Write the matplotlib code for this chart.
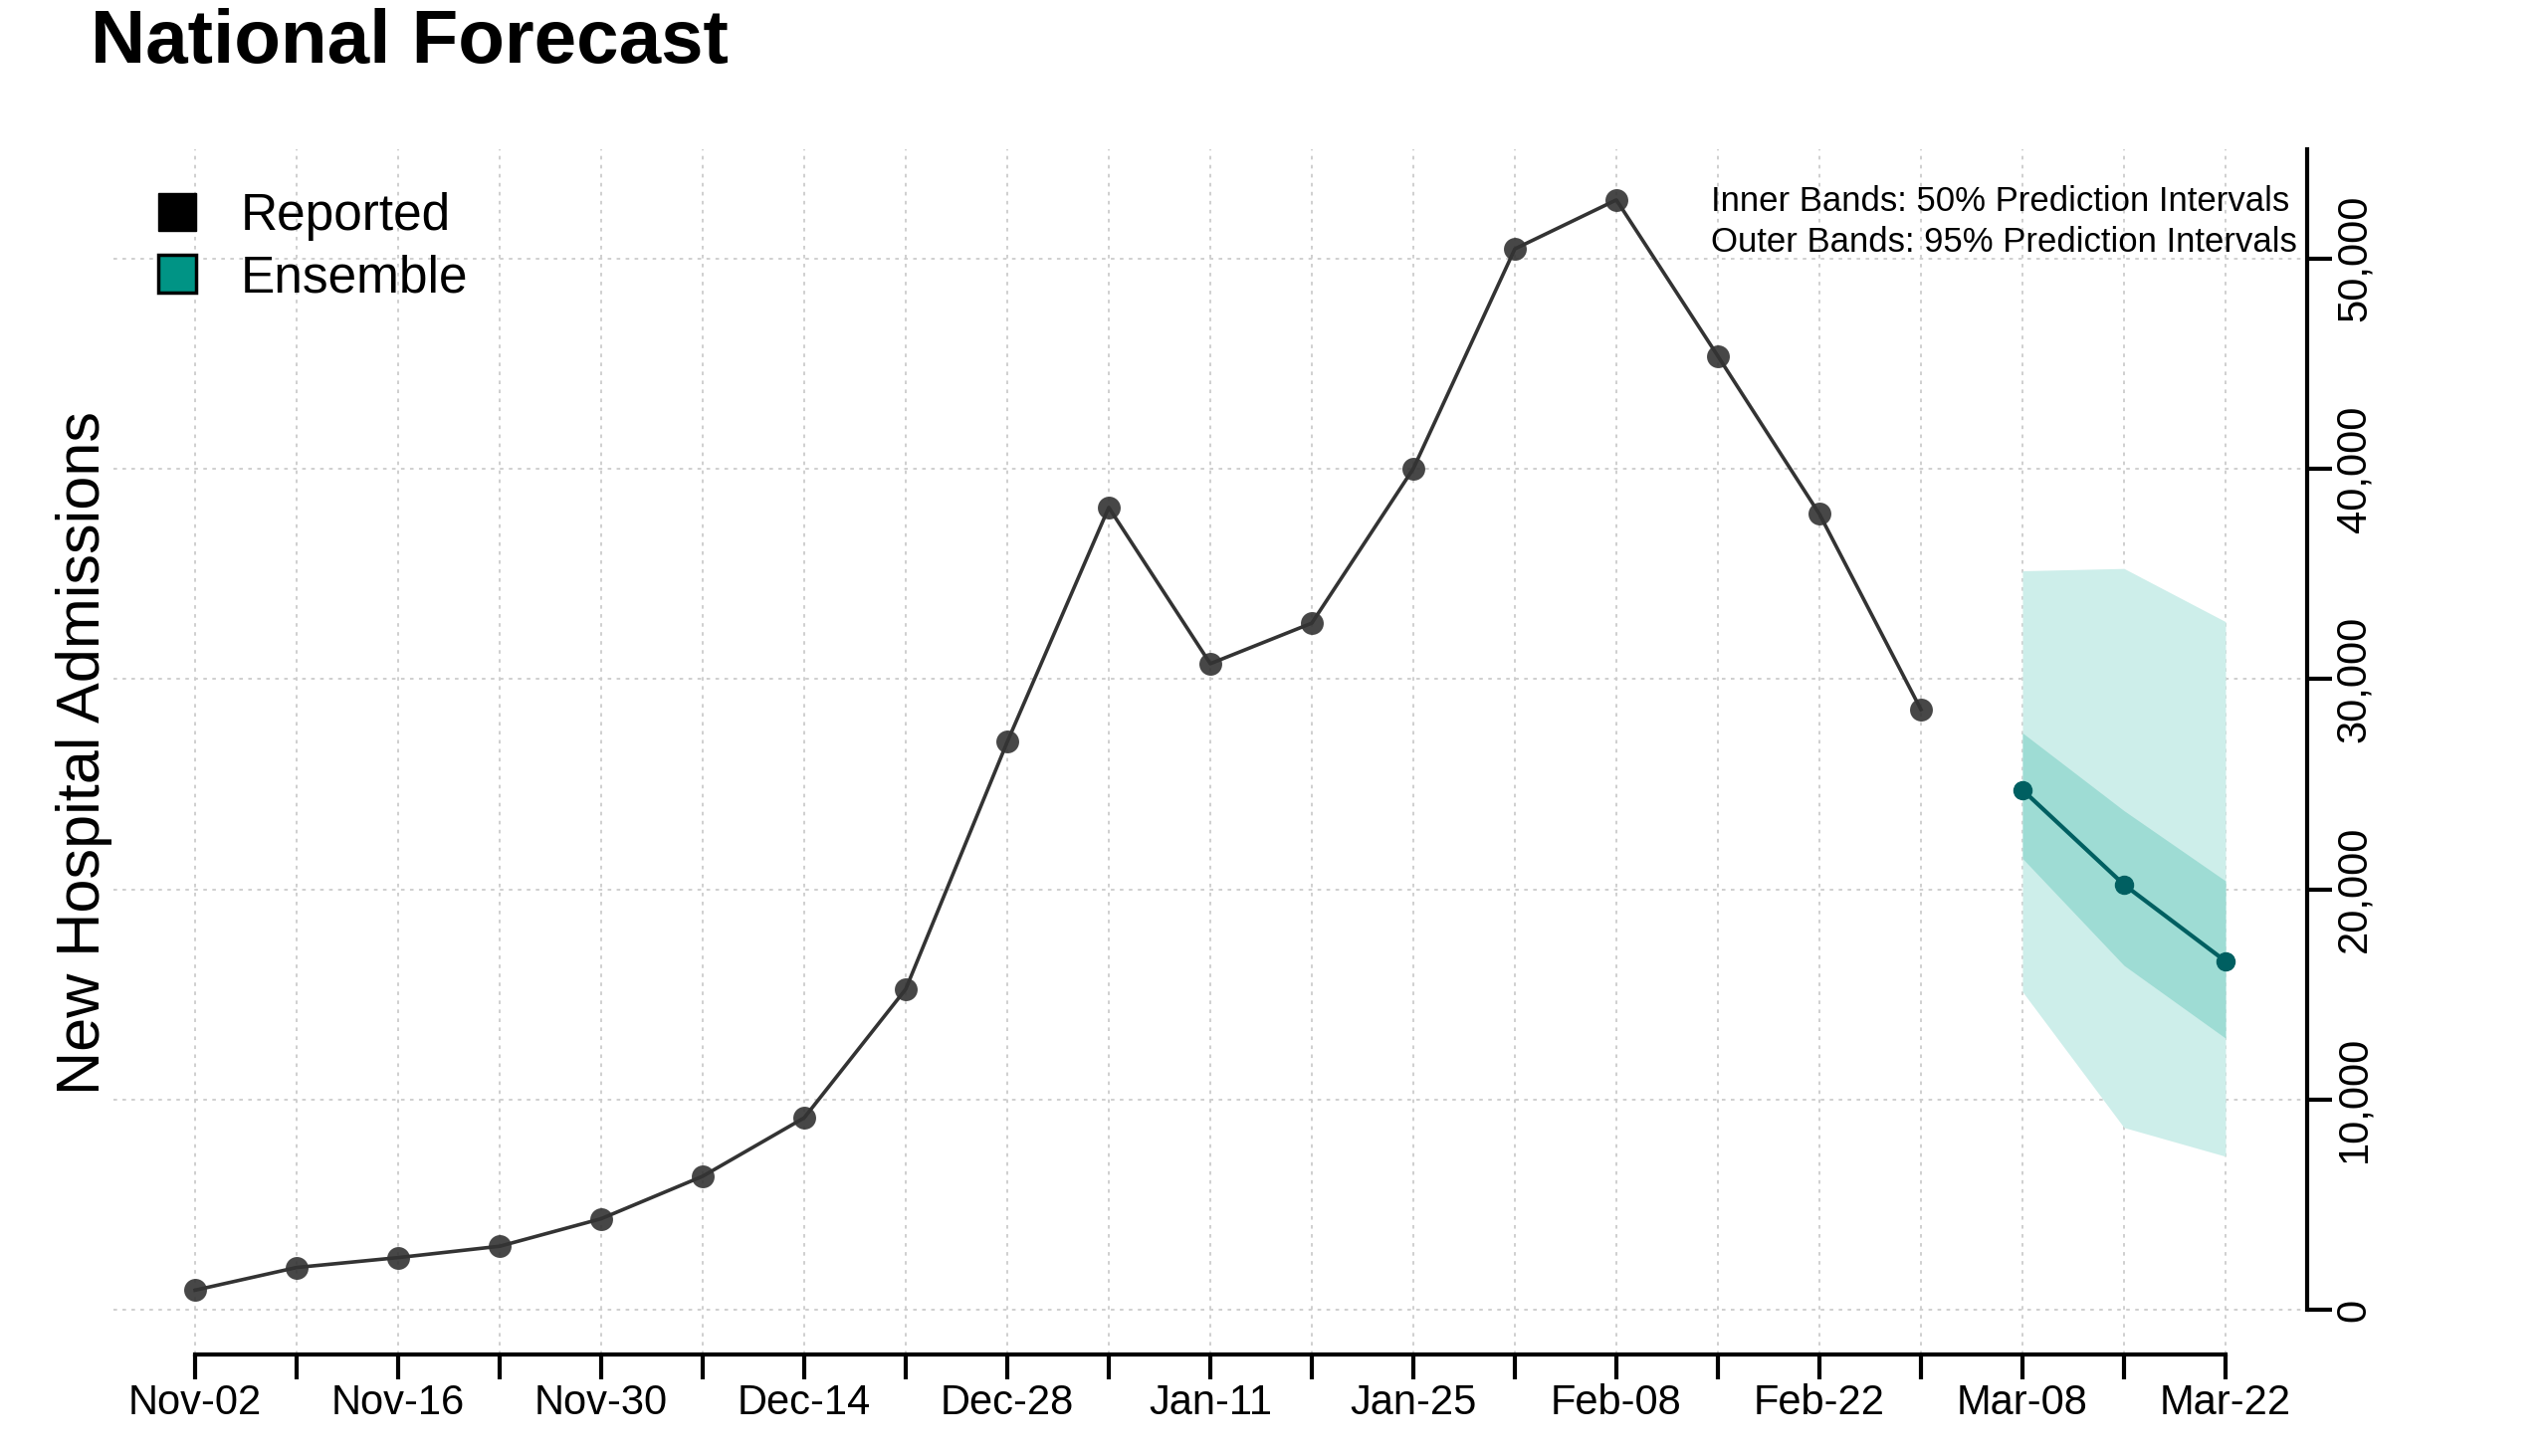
import numpy as np
import matplotlib.pyplot as plt
from matplotlib.lines import Line2D

plt.rcParams['font.family'] = ['Liberation Sans', 'DejaVu Sans']

# weekly dates, Nov-02 .. Mar-22
week_labels = ['Nov-02', 'Nov-09', 'Nov-16', 'Nov-23', 'Nov-30', 'Dec-07', 'Dec-14',
               'Dec-21', 'Dec-28', 'Jan-04', 'Jan-11', 'Jan-18', 'Jan-25', 'Feb-01',
               'Feb-08', 'Feb-15', 'Feb-22', 'Mar-01', 'Mar-08', 'Mar-15', 'Mar-22']

reported = [930, 2010, 2480, 3020, 4330, 6350, 9130, 15250, 27010, 38160,
            30730, 32660, 40010, 50460, 52790, 45360, 37850, 28550]

forecast_median = [24730, 20220, 16580]
forecast_50_lo = [21470, 16380, 12920]
forecast_50_hi = [27440, 23740, 20400]
forecast_95_lo = [15130, 8670, 7300]
forecast_95_hi = [35150, 35260, 32730]

yticks = [0, 10000, 20000, 30000, 40000, 50000]

x_rep = np.arange(len(reported))
x_fc = np.arange(len(reported), len(week_labels))

fig = plt.figure(figsize=(25.6, 14.63), dpi=100)
ax = fig.add_axes([0.0447, 0.0697, 0.8606, 0.8278])

# prediction bands
ax.fill_between(x_fc, forecast_95_lo, forecast_95_hi, color='#cdeeea', lw=0, zorder=2)
ax.fill_between(x_fc, forecast_50_lo, forecast_50_hi, color='#9edcd4', lw=0, zorder=3)

ax.plot(x_rep, reported, color='#333333', lw=2.6, zorder=4)
ax.plot(x_rep, reported, 'o', color='#333333', alpha=0.9, ms=16.5, mec='none', zorder=5)
ax.plot(x_fc, forecast_median, color='#005f61', lw=3, marker='o', ms=13, zorder=6)

ax.set_xlim(-0.8, 20.8)
ax.set_ylim(-2130, 55200)

ax.set_xticks(range(len(week_labels)))
ax.set_xticklabels([lab if i % 2 == 0 else '' for i, lab in enumerate(week_labels)],
                   fontsize=30)
ax.set_yticks(yticks)
ax.set_yticklabels(['{:,}'.format(v) for v in yticks], fontsize=30, rotation=90,
                   va='center')
ax.yaxis.tick_right()
ax.tick_params(axis='x', length=18, width=3, pad=3)
ax.tick_params(axis='y', length=18, width=3, pad=2)

ax.grid(True, color='#cccccc', lw=1.3, ls=(0, (2, 3)))
ax.set_axisbelow(True)

for s in ['top', 'left']:
    ax.spines[s].set_visible(False)
ax.spines['bottom'].set_bounds(0, 20)
ax.spines['right'].set_bounds(0, 55200)
ax.spines['bottom'].set_linewidth(3)
ax.spines['right'].set_linewidth(3)

handles = [Line2D([], [], ls='none', marker='s', ms=28, mfc='black', mec='black'),
           Line2D([], [], ls='none', marker='s', ms=28, mfc='#009485', mec='black', mew=2.5)]
ax.legend(handles, ['Reported', 'Ensemble'], loc='upper left', bbox_to_anchor=(0.0413, 0.8994),
          bbox_transform=fig.transFigure, frameon=False, fontsize=37,
          handletextpad=0.75, labelspacing=0.25, handlelength=1.0)

fig.text(0.6716, 0.8727, 'Inner Bands: 50% Prediction Intervals\nOuter Bands: 95% Prediction Intervals',
         fontsize=25, va='top', ha='left', linespacing=1.3)

fig.text(0.0355, 0.970, 'National Forecast', fontsize=55, fontweight='bold', va='center')
fig.text(0.0332, 0.483, 'New Hospital Admissions', fontsize=44, rotation=90,
         va='center', ha='center')

fig.savefig('out.png', dpi=100)
